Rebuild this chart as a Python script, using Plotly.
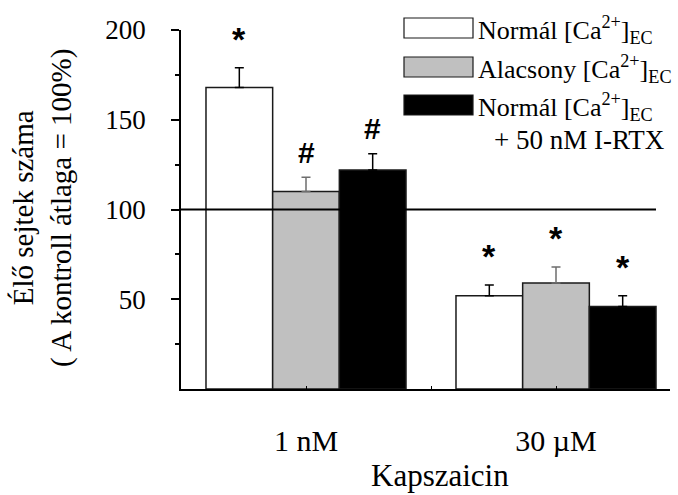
import plotly.graph_objects as go

# Data: relative number of surviving cells (control mean = 100%)
groups = ["1 nM", "30 µM"]
group_x = [1, 2]
series_names = [
    "Normál [Ca<sup>2+</sup>]<sub>EC</sub>",
    "Alacsony [Ca<sup>2+</sup>]<sub>EC</sub>",
    "Normál [Ca<sup>2+</sup>]<sub>EC</sub><br>   + 50 nM I-RTX",
]
normal_vals = [168, 52]
low_vals = [110, 59]
irtx_vals = [122, 46]
normal_err = [11, 6]
low_err = [8, 9]
irtx_err = [9, 6]
normal_sig = ["*", "*"]
low_sig = ["#", "*"]
irtx_sig = ["#", "*"]
control_level = 100
y_ticks = [50, 100, 150, 200]
y_minor = [25, 75, 125, 175]

# Figure geometry
W, H = 678, 495
ML, MR, MT, MB = 181, 8, 30, 106
PW, PH = W - ML - MR, H - MT - MB

def px(x):
    return (x - ML) / PW

def py(y):
    return (H - MB - y) / PH

bar_w = 0.2667
offsets = [-1.5 * bar_w, -0.5 * bar_w, 0.5 * bar_w]
fills = ["#ffffff", "#c0c0c0", "#000000"]
err_colors = ["#000000", "#6e6e6e", "#000000"]
vals = [normal_vals, low_vals, irtx_vals]
errs = [normal_err, low_err, irtx_err]
sigs = [normal_sig, low_sig, irtx_sig]

serif = "Liberation Serif"
fig = go.Figure()
for i in range(3):
    fig.add_trace(go.Bar(
        x=group_x, y=vals[i], name=series_names[i],
        width=bar_w, offset=offsets[i],
        marker=dict(color=fills[i], line=dict(color="#1a1a1a", width=1.5)),
        error_y=dict(type="data", symmetric=False, array=errs[i],
                     arrayminus=[0] * len(errs[i]),
                     color=err_colors[i], thickness=1.5, width=4.5),
        showlegend=False,
    ))

annotations = []
# Significance marks above the error bars
for i in range(3):
    for j, g in enumerate(group_x):
        s = sigs[i][j]
        annotations.append(dict(
            x=g + offsets[i] + bar_w / 2, y=vals[i][j] + errs[i][j],
            xref="x", yref="y", text=s, showarrow=False,
            yanchor="middle", yshift=(29 if s == "*" else 25),
            font=dict(family="Liberation Sans", size=(34 if s == "*" else 30),
                      color="black", weight="bold"),
        ))

# Legend drawn as boxes + labels
shapes = []
box_tops = [18, 57, 95]
for i in range(3):
    shapes.append(dict(type="rect", xref="paper", yref="paper",
                       x0=px(404), x1=px(473), y0=py(box_tops[i] + 20), y1=py(box_tops[i]),
                       fillcolor=fills[i], line=dict(color="#1a1a1a", width=1.2)))
label_y = [30, 69, 107]
for i in range(3):
    annotations.append(dict(
        x=px(476), y=py(label_y[i]), xref="paper", yref="paper",
        text=series_names[i].split("<br>")[0], showarrow=False,
        xanchor="left", yanchor="middle",
        font=dict(family=serif, size=26, color="black"),
    ))
annotations.append(dict(
    x=px(492), y=py(140), xref="paper", yref="paper",
    text="+ 50 nM I-RTX", showarrow=False, xanchor="left", yanchor="middle",
    font=dict(family=serif, size=27, color="black"),
))

# Control reference line at 100%
shapes.append(dict(type="line", xref="x", yref="y",
                   x0=0.5, x1=group_x[-1] + offsets[-1] + bar_w,
                   y0=control_level, y1=control_level,
                   line=dict(color="black", width=2)))

# Axis titles
annotations.append(dict(
    x=px(43), y=py(208), xref="paper", yref="paper",
    text="Élő sejtek száma<br>( A kontroll átlaga = 100%)", showarrow=False,
    textangle=-90, xanchor="center", yanchor="middle",
    font=dict(family=serif, size=29, color="black"),
))
annotations.append(dict(
    x=px(440), y=py(475), xref="paper", yref="paper",
    text="Kapszaicin", showarrow=False, xanchor="center", yanchor="middle",
    font=dict(family=serif, size=31, color="black"),
))

fig.update_layout(
    width=W, height=H,
    margin=dict(l=ML, r=MR, t=MT, b=MB, autoexpand=False),
    paper_bgcolor="white", plot_bgcolor="white",
    barmode="overlay",
    shapes=shapes, annotations=annotations,
    xaxis=dict(
        range=[0.5, 2.456], showgrid=False, zeroline=False,
        showline=True, linecolor="black", linewidth=1.5,
        tickvals=[1, 1.5, 2], ticktext=[groups[0], "", groups[1]],
        ticks="inside", ticklen=3, tickcolor="black", tickwidth=1,
        ticklabelstandoff=24,
        tickfont=dict(family=serif, size=30, color="black"),
    ),
    yaxis=dict(
        range=[0, 200], showgrid=False, zeroline=False,
        showline=True, linecolor="black", linewidth=1.5,
        tickvals=y_ticks, ticks="outside", ticklen=8, tickwidth=1.5,
        tickcolor="black", ticklabelstandoff=20,
        minor=dict(tickvals=y_minor, ticks="outside", ticklen=4,
                   tickwidth=1.5, tickcolor="black"),
        tickfont=dict(family=serif, size=27, color="black"),
    ),
)

fig.write_html("out.html")
